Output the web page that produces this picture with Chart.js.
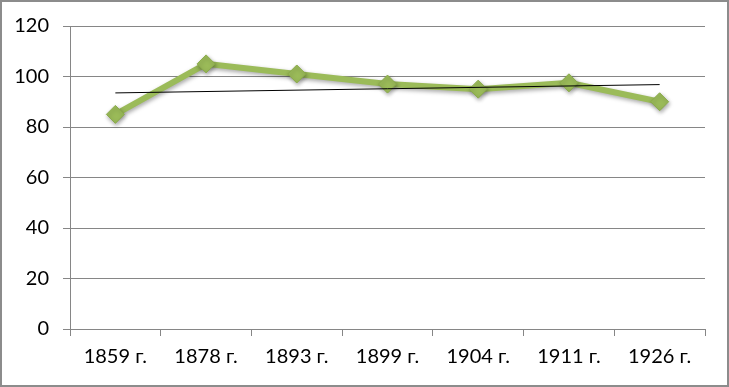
<!DOCTYPE html>
<html>
<head>
<meta charset="utf-8">
<script src="https://cdn.jsdelivr.net/npm/chart.js@4"></script>
<style>
  html, body { margin: 0; padding: 0; background: #fff; }
  #wrap { width: 729px; height: 387px; position: relative; }
</style>
</head>
<body>
<div id="wrap"><canvas id="chart" width="729" height="387"></canvas></div>
<script>
// values
var years = ['1859 г.', '1878 г.', '1893 г.', '1899 г.', '1904 г.', '1911 г.', '1926 г.'];
var values = [85, 105, 101, 97, 95, 97.5, 90];
// straight trend line, only its two ends
var trend = [93.5, null, null, null, null, null, 96.8];
var yTicks = [0, 20, 40, 60, 80, 100, 120];

var green = '#9BBB59';
var gridGray = '#868686';

// frame around the whole picture
var framePlugin = {
  id: 'frame',
  afterDraw: function (chart) {
    var c = chart.ctx;
    c.save();
    c.strokeStyle = '#8c8c8c';
    c.lineWidth = 2;
    c.strokeRect(1, 1, chart.width - 2, chart.height - 2);
    c.restore();
  }
};

// soft shadow under the green series
var shadowPlugin = {
  id: 'shadow',
  beforeDatasetDraw: function (chart, args) {
    if (args.index !== 1) return;
    var c = chart.ctx;
    c.save();
    c.shadowColor = 'rgba(0,0,0,0.35)';
    c.shadowBlur = 4;
    c.shadowOffsetX = 1;
    c.shadowOffsetY = 2;
  },
  afterDatasetDraw: function (chart, args) {
    if (args.index !== 1) return;
    chart.ctx.restore();
  }
};

var ctx = document.getElementById('chart').getContext('2d');
var chart = new Chart(ctx, {
  type: 'line',
  data: {
    labels: years,
    datasets: [{
      label: 'trend',
      data: trend,
      borderColor: '#000',
      borderWidth: 1,
      pointRadius: 0,
      spanGaps: true,
      fill: false
    }, {
      label: 'values',
      data: values,
      borderColor: green,
      backgroundColor: green,
      borderWidth: 6,
      pointStyle: 'rectRot',
      pointRadius: 9,
      pointBackgroundColor: green,
      pointBorderColor: '#8aab4a',
      pointBorderWidth: 1,
      tension: 0,
      fill: false
    }]
  },
  options: {
    responsive: false,
    animation: false,
    layout: { padding: { top: 25, right: 24, left: 0, bottom: 0 } },
    plugins: {
      legend: { display: false },
      tooltip: { enabled: false }
    },
    scales: {
      x: {
        offset: true,
        grid: {
          offset: true,
          drawOnChartArea: false,
          drawTicks: true,
          tickLength: 7,
          color: gridGray
        },
        border: { color: gridGray, width: 1 },
        ticks: {
          color: '#000',
          padding: 9,
          maxRotation: 0,
          font: { family: 'Lato', size: 20 }
        },
        afterFit: function (scale) { scale.height = 58; }
      },
      y: {
        min: 0,
        max: 120,
        afterBuildTicks: function (scale) {
          scale.ticks = yTicks.map(function (v) { return { value: v }; });
        },
        grid: {
          color: gridGray,
          tickLength: 7,
          drawTicks: true
        },
        border: { color: gridGray, width: 1 },
        ticks: {
          color: '#000',
          padding: 14,
          font: { family: 'Lato', size: 20 }
        },
        afterFit: function (scale) { scale.width = 70; }
      }
    }
  },
  plugins: [shadowPlugin, framePlugin]
});
</script>
</body>
</html>
